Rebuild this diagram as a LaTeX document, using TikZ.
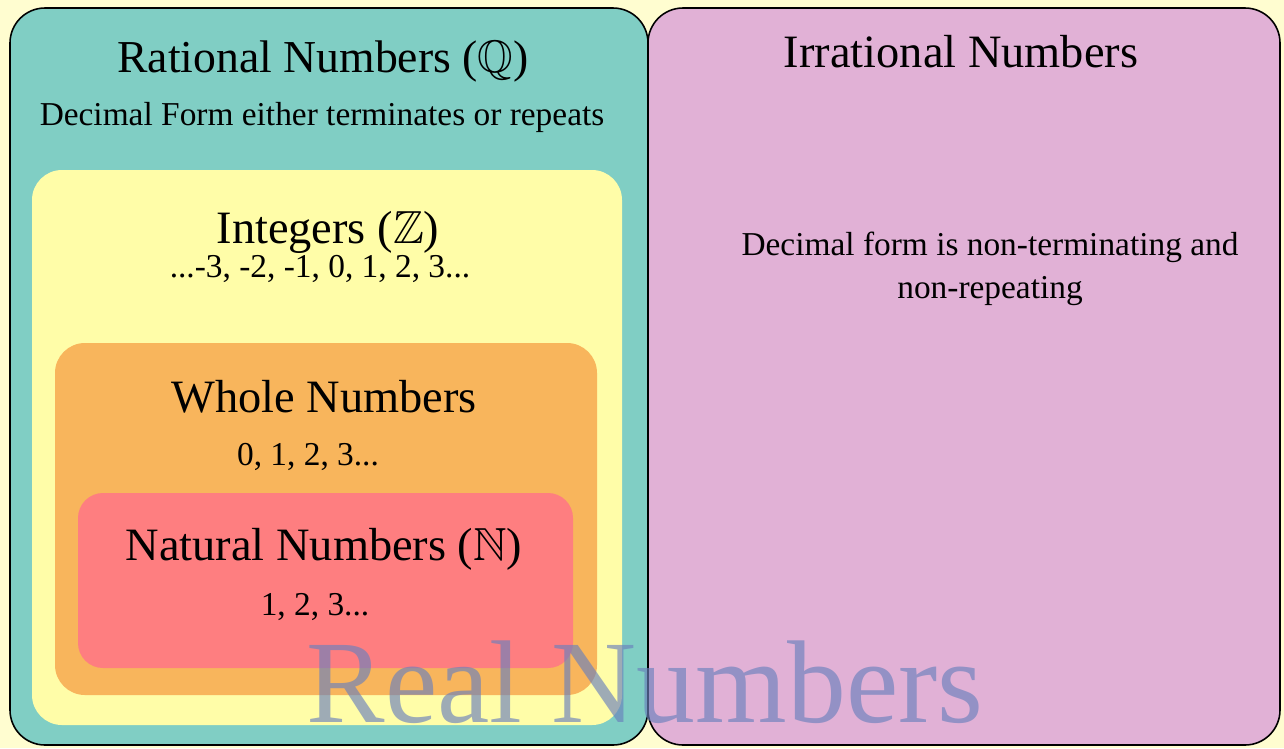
\documentclass[tikz,border=0pt]{standalone}
\usepackage{amsmath,amssymb}
\usepackage{fontspec}
\setmainfont{Liberation Serif}
\usepackage{tikz}
\usetikzlibrary{positioning}
\definecolor{RealYellow}{HTML}{FFFDD0}
\definecolor{RatTeal}{HTML}{80CEC4}
\definecolor{IrrPink}{HTML}{E1B1D6}
\definecolor{IntYellow}{HTML}{FFFDA8}
\definecolor{WholeOrange}{HTML}{F8B55C}
\definecolor{NatRed}{HTML}{FE7E80}
\definecolor{RealBlue}{HTML}{6A80BC}
\tikzset{
    % Set boxes
    outerset/.style={
        draw=black,
        line width=0.9pt,
        rounded corners=0.7cm
    },
    innerset/.style={
        draw=none,
        rounded corners=0.6cm
    },
    % Text styles
    settitle/.style={
        anchor=base,
        inner sep=0pt,
        font=\fontsize{26.4}{30}\selectfont
    },
    setnote/.style={
        anchor=base,
        inner sep=0pt,
        font=\fontsize{19}{24}\selectfont
    },
    watermark/.style={
        anchor=base,
        inner sep=0pt,
        text=RealBlue,
        text opacity=0.65,
        font=\fontsize{67}{72}\selectfont
    }
}
\begin{document}
\begin{tikzpicture}[x=0.02cm,y=-0.02cm]
    % Canvas
    \fill[RealYellow] (0,0) rectangle (1284,748);
    \useasboundingbox (0,0) rectangle (1284,748);

    % Rational and irrational sets
    \draw[outerset,fill=RatTeal] (10,8) rectangle (648,745);
    \draw[outerset,fill=IrrPink] (648,8) rectangle (1280,745);

    % Nested sets
    \fill[innerset,IntYellow] (32,170) rectangle (622,725);
    \fill[innerset,WholeOrange] (55,343) rectangle (597,695);
    \fill[innerset,NatRed,rounded corners=0.5cm] (78,493) rectangle (573,668);

    % Rational labels
    \node[settitle,font=\fontsize{26}{30}\selectfont] (rattitle) at (323,72) {Rational Numbers ($\mathbb{Q}$)};
    \node[setnote] (ratnote) at (322,125) {Decimal Form either terminates or repeats};

    % Integer labels
    \node[settitle] (inttitle) at (328,243) {Integers ($\mathbb{Z}$)};
    \node[setnote] (intnote) at (320,277) {...-3, -2, -1, 0, 1, 2, 3...};

    % Whole labels
    \node[settitle] (wholetitle) at (324,412) {Whole Numbers};
    \node[setnote] (wholenote) at (308,465) {0, 1, 2, 3...};

    % Natural labels
    \node[settitle] (nattitle) at (324,560) {Natural Numbers ($\mathbb{N}$)};
    \node[setnote] (natnote) at (315,615) {1, 2, 3...};

    % Irrational labels
    \node[settitle] (irrtitle) at (961,67) {Irrational Numbers};
    \node[setnote,align=center,font=\fontsize{19}{24}\selectfont] (irrnote) at (990,298) {Decimal form is non-terminating and\\non-repeating};

    % Real numbers watermark
    \node[watermark] (real) at (645,722) {Real Numbers};
\end{tikzpicture}
\end{document}
